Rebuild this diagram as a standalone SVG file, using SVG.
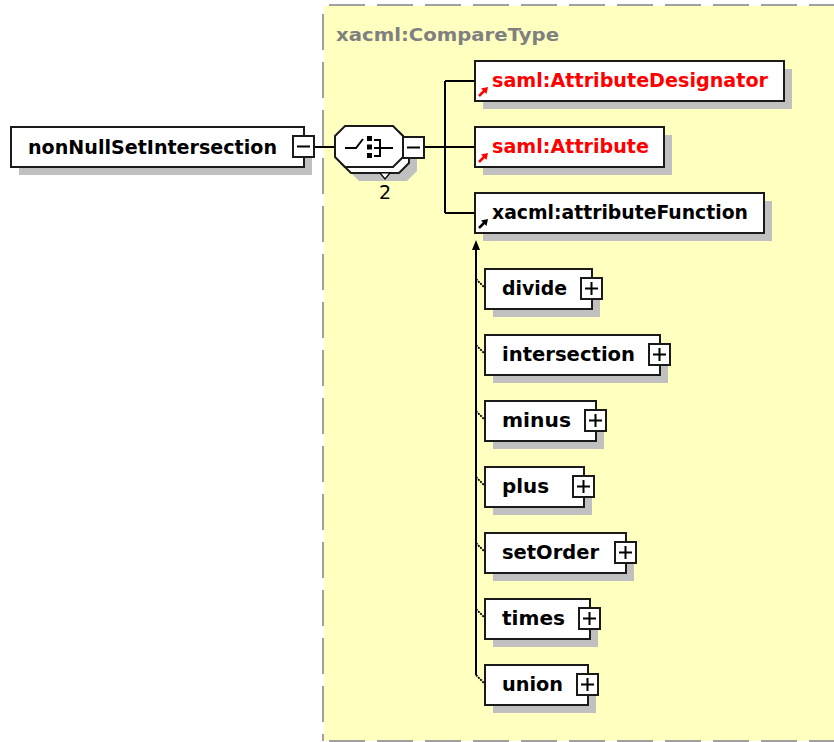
<svg xmlns="http://www.w3.org/2000/svg" width="834" height="742" viewBox="0 0 834 742">
<style>
.bg{fill:#FFFFC0}
.dash{fill:none;stroke:#A0A0A0;stroke-width:2;stroke-dasharray:36 12}
.sh{fill:#C0C0C0}
.box{fill:#FFFFFF;stroke:#1A1A1A;stroke-width:2}
.ln{fill:none;stroke:#000;stroke-width:2}
.dot{fill:none;stroke:#000;stroke-width:1.8;stroke-dasharray:2 1}
.t{font-family:"DejaVu Sans","Liberation Sans",sans-serif;font-weight:bold;font-size:19px;fill:#000}
.r{fill:#FF0000}
.title{font-family:"DejaVu Sans","Liberation Sans",sans-serif;font-weight:bold;font-size:17px;fill:#808080}
.num{font-family:"DejaVu Sans","Liberation Sans",sans-serif;font-size:19px;fill:#000}
.ic{fill:#FFFFFF;stroke:#1A1A1A;stroke-width:2}
.icl{stroke:#000;stroke-width:2;fill:none}
</style>
<defs>
<g id="plus"><rect class="ic" x="0" y="0" width="21" height="21"/><path class="icl" d="M4,10.5H17M10.5,4V17"/></g>
<g id="minus"><rect class="ic" x="0" y="0" width="21" height="21"/><path class="icl" d="M4,10.5H17"/></g>
<g id="refR"><path d="M479,96L485,90" stroke="#FF0000" stroke-width="2.5"/><path d="M488,87L481,88.5L486.5,94Z" fill="#FF0000"/></g>
<g id="refK"><path d="M479,96L485,90" stroke="#000" stroke-width="2.5"/><path d="M488,87L481,88.5L486.5,94Z" fill="#000"/></g>
</defs>

<g id="container">
<rect class="bg" x="324" y="6" width="512" height="735"/>
<path class="dash" d="M329,5H834"/>
<path class="dash" d="M323,14V741"/>
<path class="dash" d="M329,741H834"/>
<text class="title" x="336" y="41" textLength="223" lengthAdjust="spacingAndGlyphs">xacml:CompareType</text>
</g>

<g id="connectors">
<path class="ln" d="M313,147H335"/>
<path class="ln" d="M424,147H445M445,81V213M445,81H475M445,147H475M445,213H475"/>
<path class="ln" d="M476,248V675"/>
<path d="M476,240L472,250L480,250Z" fill="#000"/>
<path class="dot" d="M476,279L485,288M476,345L485,354M476,411L485,420M476,477L485,486M476,543L485,552M476,609L485,618M476,675L485,684"/>
</g>

<g id="nonNullSetIntersection">
<rect class="sh" x="19" y="135" width="293" height="40"/>
<rect class="box" x="11" y="127" width="293" height="40"/>
<text class="t" x="28" y="154" textLength="249" lengthAdjust="spacingAndGlyphs">nonNullSetIntersection</text>
<use href="#minus" x="293" y="136"/>
</g>

<g id="sequence">
<polygon class="sh" points="359,140 407,140 417,150 417,171 407,181 359,181 349,171 349,150"/>
<polygon class="box" points="351,132 399,132 409,142 409,163 399,173 351,173 341,163 341,142"/>
<polygon class="box" points="345,126 393,126 403,136 403,157 393,167 345,167 335,157 335,136"/>
<path d="M380,173L390,173L385,179Z" fill="#FFFFFF" stroke="#000" stroke-width="1.2"/>
<path class="icl" d="M345,148H356L363,139"/>
<rect x="367" y="136" width="5" height="5" fill="#000"/>
<rect x="367" y="144.5" width="5" height="5" fill="#000"/>
<rect x="367" y="153" width="5" height="5" fill="#000"/>
<path class="icl" d="M374,140H380V156H374M374,148H393"/>
<use href="#minus" x="403" y="137"/>
<text class="num" x="385" y="199" text-anchor="middle">2</text>
</g>

<g id="AttributeDesignator">
<rect class="sh" x="483" y="69" width="309" height="40"/>
<rect class="box" x="475" y="61" width="309" height="40"/>
<use href="#refR"/>
<text class="t r" x="492" y="87" textLength="276" lengthAdjust="spacingAndGlyphs">saml:AttributeDesignator</text>
</g>

<g id="Attribute">
<rect class="sh" x="483" y="135" width="189" height="40"/>
<rect class="box" x="475" y="127" width="189" height="40"/>
<use href="#refR" y="66"/>
<text class="t r" x="492" y="153" textLength="157" lengthAdjust="spacingAndGlyphs">saml:Attribute</text>
</g>

<g id="attributeFunction">
<rect class="sh" x="483" y="201" width="289" height="40"/>
<rect class="box" x="475" y="193" width="289" height="40"/>
<use href="#refK" y="132"/>
<text class="t" x="492" y="219" textLength="256" lengthAdjust="spacingAndGlyphs">xacml:attributeFunction</text>
</g>

<g id="divide">
<rect class="sh" x="493" y="277" width="107" height="40"/>
<rect class="box" x="485" y="269" width="107" height="40"/>
<text class="t" x="502" y="295" textLength="65" lengthAdjust="spacingAndGlyphs">divide</text>
<use href="#plus" x="581" y="278"/>
</g>

<g id="intersection">
<rect class="sh" x="493" y="343" width="175" height="40"/>
<rect class="box" x="485" y="335" width="175" height="40"/>
<text class="t" x="502" y="361" textLength="133" lengthAdjust="spacingAndGlyphs">intersection</text>
<use href="#plus" x="649" y="344"/>
</g>

<g id="minusNode">
<rect class="sh" x="493" y="409" width="111" height="40"/>
<rect class="box" x="485" y="401" width="111" height="40"/>
<text class="t" x="502" y="427" textLength="69" lengthAdjust="spacingAndGlyphs">minus</text>
<use href="#plus" x="585" y="410"/>
</g>

<g id="plusNode">
<rect class="sh" x="493" y="475" width="99" height="40"/>
<rect class="box" x="485" y="467" width="99" height="40"/>
<text class="t" x="502" y="493" textLength="47" lengthAdjust="spacingAndGlyphs">plus</text>
<use href="#plus" x="573" y="476"/>
</g>

<g id="setOrder">
<rect class="sh" x="493" y="541" width="141" height="40"/>
<rect class="box" x="485" y="533" width="141" height="40"/>
<text class="t" x="502" y="559" textLength="97" lengthAdjust="spacingAndGlyphs">setOrder</text>
<use href="#plus" x="615" y="542"/>
</g>

<g id="times">
<rect class="sh" x="493" y="607" width="105" height="40"/>
<rect class="box" x="485" y="599" width="105" height="40"/>
<text class="t" x="502" y="625" textLength="63" lengthAdjust="spacingAndGlyphs">times</text>
<use href="#plus" x="579" y="608"/>
</g>

<g id="union">
<rect class="sh" x="493" y="673" width="103" height="40"/>
<rect class="box" x="485" y="665" width="103" height="40"/>
<text class="t" x="502" y="691" textLength="61" lengthAdjust="spacingAndGlyphs">union</text>
<use href="#plus" x="577" y="674"/>
</g>
</svg>
